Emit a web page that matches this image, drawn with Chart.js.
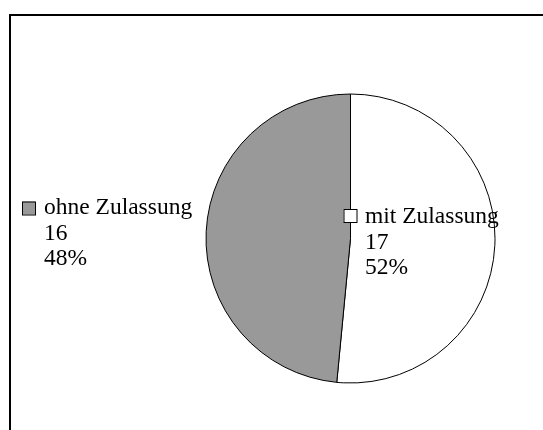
<!DOCTYPE html>
<html>
<head>
<meta charset="utf-8">
<script src="https://cdn.jsdelivr.net/npm/chart.js@4/dist/chart.umd.min.js"></script>
<style>
html,body{margin:0;padding:0;background:#fff;overflow:hidden;}
canvas{display:block;}
</style>
</head>
<body>
<canvas id="c" width="543" height="430"></canvas>
<script>
const categories = ["mit Zulassung", "ohne Zulassung"];
const values = [17, 16];
const colors = ["#ffffff", "#999999"];

const frameAndLabels = {
  id: 'frameAndLabels',
  beforeDraw(chart) {
    const ctx = chart.ctx;
    ctx.save();
    ctx.fillStyle = '#fff';
    ctx.fillRect(0, 0, chart.width, chart.height);
    ctx.strokeStyle = '#000';
    ctx.lineWidth = 2;
    ctx.strokeRect(10, 15, 600, 500);
    ctx.restore();
  },
  afterDraw(chart) {
    const ctx = chart.ctx;
    const meta = chart.getDatasetMeta(0);
    const total = values.reduce((a, b) => a + b, 0);
    const cx = meta.data[0].x, cy = meta.data[0].y;
    const spots = [
      {sq: [cx - 7, cy - 29.5], tx: cx + 14.5, base: cy - 15.5},
      {sq: [22, cy - 37], tx: 44, base: cy - 24.5}
    ];
    ctx.save();
    ctx.font = '23.5px "Liberation Serif", "Times New Roman", serif';
    ctx.textBaseline = 'alphabetic';
    ctx.textAlign = 'left';
    categories.forEach((name, i) => {
      const s = spots[i];
      ctx.fillStyle = colors[i];
      ctx.fillRect(s.sq[0], s.sq[1], 13, 13);
      ctx.strokeStyle = '#000';
      ctx.lineWidth = 1;
      ctx.strokeRect(s.sq[0] + 0.5, s.sq[1] + 0.5, 13, 13);
      ctx.fillStyle = '#000';
      const pct = Math.round(values[i] / total * 100) + '%';
      ctx.fillText(name, s.tx, s.base);
      ctx.fillText(String(values[i]), s.tx, s.base + 25.5);
      ctx.fillText(pct, s.tx, s.base + 51);
    });
    ctx.restore();
  }
};

new Chart(document.getElementById('c'), {
  type: 'pie',
  data: {
    labels: categories,
    datasets: [{
      data: values,
      backgroundColor: colors,
      borderColor: '#000',
      borderWidth: 1
    }]
  },
  options: {
    responsive: false,
    animation: false,
    layout: {padding: {left: 205.5, right: 47.5, top: 93.5, bottom: 46.5}},
    plugins: {legend: {display: false}, tooltip: {enabled: false}}
  },
  plugins: [frameAndLabels]
});
</script>
</body>
</html>
